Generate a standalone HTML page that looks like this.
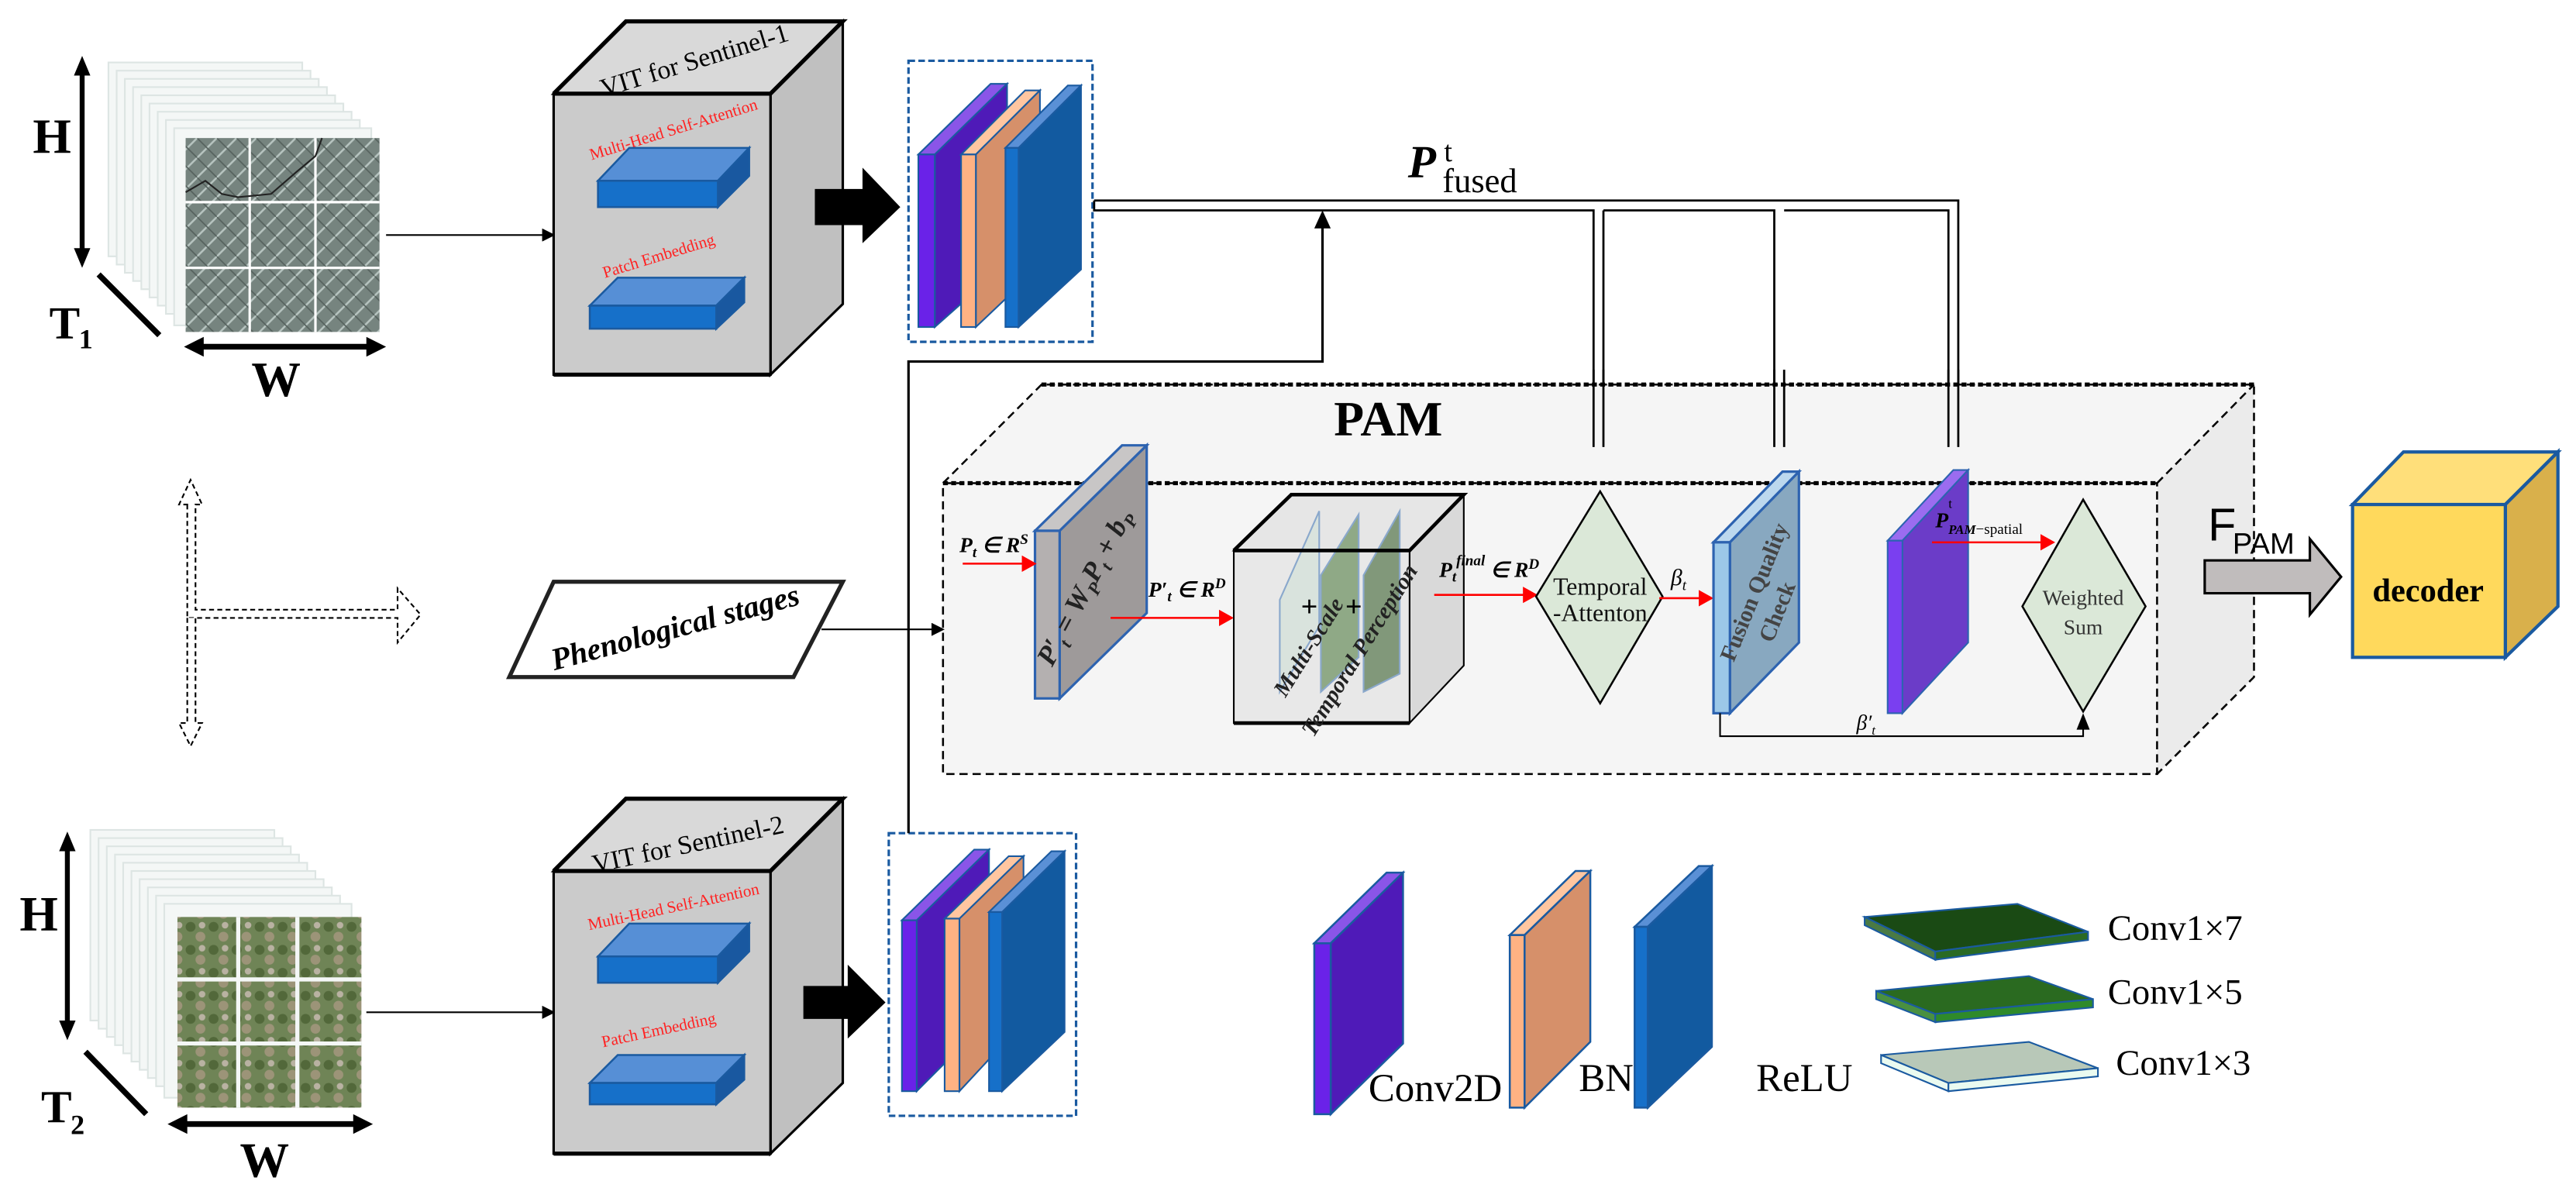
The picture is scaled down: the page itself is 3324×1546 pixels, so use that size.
<!DOCTYPE html>
<html><head><meta charset="utf-8"><style>html,body{margin:0;padding:0;background:#fff}svg{display:block}</style></head>
<body>
<svg width="3324" height="1546" viewBox="0 0 1568 729" preserveAspectRatio="none" xmlns="http://www.w3.org/2000/svg" font-family="Liberation Serif, serif">
<defs>
<marker id="ah" markerWidth="8" markerHeight="8" refX="7" refY="4" orient="auto" markerUnits="userSpaceOnUse"><path d="M0,0 L8,4 L0,8z" fill="#000"/></marker>
<marker id="ar" markerWidth="9" markerHeight="10" refX="8" refY="5" orient="auto" markerUnits="userSpaceOnUse"><path d="M0,0 L9,5 L0,10z" fill="#f00"/></marker>
<pattern id="sat1" width="12" height="12" patternUnits="userSpaceOnUse"><rect width="12" height="12" fill="#76847f"/><path d="M0,12 L12,0 M-3,3 L3,-3 M9,15 L15,9" stroke="#b7c4c0" stroke-width="1.2"/><path d="M0,0 L12,12" stroke="#56625e" stroke-width="0.8"/></pattern>
<pattern id="sat2" width="14" height="14" patternUnits="userSpaceOnUse"><rect width="14" height="14" fill="#6f8456"/><circle cx="4" cy="4" r="3" fill="#52683a"/><circle cx="10" cy="10" r="3" fill="#9c9478"/><circle cx="11" cy="3" r="2" fill="#b9b2a2"/></pattern>
</defs>

<!-- ===== Top-left image stack ===== -->
<g fill="#f4f7f6" stroke="#dde5e3" stroke-width="1">
<rect x="66" y="38" width="118" height="118"/><rect x="71" y="43" width="118" height="118"/><rect x="76" y="48" width="118" height="118"/><rect x="81" y="53" width="118" height="118"/><rect x="86" y="58" width="118" height="118"/><rect x="91" y="63" width="118" height="118"/><rect x="96" y="68" width="118" height="118"/><rect x="101" y="73" width="118" height="118"/><rect x="106" y="78" width="120" height="120"/>
</g>
<rect x="113" y="84" width="118" height="118" fill="url(#sat1)"/>
<path d="M152,84V202M192,84V202M113,123H231M113,163H231" stroke="#fff" stroke-width="1.5"/>
<path d="M113,117 L125,110 L135,118 L145,120 L165,118 L180,105 L192,95 L196,84" stroke="#222" fill="none" stroke-width="1"/>
<line x1="50" y1="40" x2="50" y2="157" stroke="#000" stroke-width="3"/><path d="M45,46 L50,34 L55,46z M45,151 L50,163 L55,151z"/>
<text x="20" y="93" font-size="30" font-weight="bold">H</text>
<line x1="60" y1="167" x2="97" y2="204" stroke="#000" stroke-width="3.5"/>
<text x="30" y="206" font-size="28" font-weight="bold">T</text><text x="48" y="212" font-size="17" font-weight="bold">1</text>
<line x1="118" y1="211" x2="229" y2="211" stroke="#000" stroke-width="3.5"/><path d="M124,205 L112,211 L124,217z M223,205 L235,211 L223,217z"/>
<text x="168" y="241" font-size="30" font-weight="bold" text-anchor="middle">W</text>
<line x1="235" y1="143" x2="337" y2="143" stroke="#000" stroke-width="1" marker-end="url(#ah)"/>

<!-- ===== Bottom-left image stack ===== -->
<g fill="#f4f7f6" stroke="#dde5e3" stroke-width="1">
<rect x="55" y="505" width="112" height="116"/><rect x="60" y="510" width="112" height="116"/><rect x="65" y="515" width="112" height="116"/><rect x="70" y="520" width="112" height="116"/><rect x="75" y="525" width="112" height="116"/><rect x="80" y="530" width="112" height="116"/><rect x="85" y="535" width="112" height="116"/><rect x="90" y="540" width="112" height="116"/><rect x="95" y="545" width="112" height="116"/><rect x="100" y="550" width="114" height="118"/>
</g>
<rect x="108" y="558" width="112" height="116" fill="url(#sat2)"/>
<path d="M145,558V674M181,558V674M108,596H220M108,635H220" stroke="#f4f7f6" stroke-width="2.5"/>
<line x1="41" y1="512" x2="41" y2="627" stroke="#000" stroke-width="3"/><path d="M36,518 L41,506 L46,518z M36,621 L41,633 L46,621z"/>
<text x="12" y="566" font-size="30" font-weight="bold">H</text>
<line x1="52" y1="640" x2="89" y2="678" stroke="#000" stroke-width="3.5"/>
<text x="25" y="683" font-size="28" font-weight="bold">T</text><text x="43" y="690" font-size="17" font-weight="bold">2</text>
<line x1="108" y1="684" x2="221" y2="684" stroke="#000" stroke-width="3.5"/><path d="M114,678 L102,684 L114,690z M215,678 L227,684 L215,690z"/>
<text x="161" y="716" font-size="30" font-weight="bold" text-anchor="middle">W</text>
<line x1="223" y1="616" x2="337" y2="616" stroke="#000" stroke-width="1" marker-end="url(#ah)"/>

<!-- ===== VIT box 1 ===== -->
<g stroke="#000" stroke-width="1.5">
<polygon points="337,57 381,13 513,13 469,57" fill="#d9d9d9"/>
<polygon points="469,57 513,13 513,185 469,228" fill="#c0c0c0"/>
<rect x="337" y="57" width="132" height="171" fill="#cbcbcb"/>
<path d="M337,57 L381,13 H513 L469,57 H337 M337,228 H469" stroke-width="2.5" fill="none"/>
</g>
<text x="423" y="42" font-size="16" text-anchor="middle" transform="rotate(-17 423 38)">VIT for Sentinel-1</text>
<text x="410" y="82" font-size="10" fill="#f22" text-anchor="middle" transform="rotate(-17 410 79)">Multi-Head Self-Attention</text>
<g stroke="#1a5aa0" stroke-width="1.2"><polygon points="364,110 383,90 456,90 437,110" fill="#568fd6"/><polygon points="437,110 456,90 456,107 437,126" fill="#1958a0"/><rect x="364" y="110" width="73" height="16" fill="#1670c9"/></g>
<text x="401" y="159" font-size="10" fill="#f22" text-anchor="middle" transform="rotate(-17 401 156)">Patch Embedding</text>
<g stroke="#1a5aa0" stroke-width="1.2"><polygon points="359,186 376,169 453,169 436,186" fill="#568fd6"/><polygon points="436,186 453,169 453,184 436,200" fill="#1958a0"/><rect x="359" y="186" width="77" height="14" fill="#1670c9"/></g>

<!-- ===== VIT box 2 ===== -->
<g stroke="#000" stroke-width="1.5">
<polygon points="337,530 381,486 513,486 469,530" fill="#d9d9d9"/>
<polygon points="469,530 513,486 513,659 469,702" fill="#c0c0c0"/>
<rect x="337" y="530" width="132" height="172" fill="#cbcbcb"/>
<path d="M337,530 L381,486 H513 L469,530 H337 M337,702 H469" stroke-width="2.5" fill="none"/>
</g>
<text x="419" y="519" font-size="16" text-anchor="middle" transform="rotate(-12 419 515)">VIT for Sentinel-2</text>
<text x="410" y="555" font-size="10" fill="#f22" text-anchor="middle" transform="rotate(-12 410 552)">Multi-Head Self-Attention</text>
<g stroke="#1a5aa0" stroke-width="1.2"><polygon points="364,582 383,562 456,562 437,582" fill="#568fd6"/><polygon points="437,582 456,562 456,579 437,598" fill="#1958a0"/><rect x="364" y="582" width="73" height="16" fill="#1670c9"/></g>
<text x="401" y="630" font-size="10" fill="#f22" text-anchor="middle" transform="rotate(-12 401 627)">Patch Embedding</text>
<g stroke="#1a5aa0" stroke-width="1.2"><polygon points="359,659 376,642 453,642 436,659" fill="#568fd6"/><polygon points="436,659 453,642 453,657 436,672" fill="#1958a0"/><rect x="359" y="659" width="77" height="13" fill="#1670c9"/></g>

<!-- big black arrows -->
<path d="M496,115 H525 V102 L548,126 L525,148 V137 H496z" fill="#000"/>
<path d="M489,600 H516 V587 L539,610 L516,632 V620 H489z" fill="#000"/>

<!-- dashed feature boxes -->
<rect x="553" y="37" width="112" height="171" fill="none" stroke="#1a5aa0" stroke-width="1.5" stroke-dasharray="4,2"/>
<rect x="541" y="507" width="114" height="172" fill="none" stroke="#1a5aa0" stroke-width="1.5" stroke-dasharray="4,2"/>

<!-- slabs top -->
<g stroke="#1a5aa0" stroke-width="1">
<polygon points="559,94 569,94 613,51 603,51" fill="#8a55e8"/><polygon points="569,94 613,51 613,160 569,199" fill="#4f1ab8"/><rect x="559" y="94" width="10" height="105" fill="#6a22e8"/>
<polygon points="585,94 594,94 633,55 624,55" fill="#ffc6a0"/><polygon points="594,94 633,55 633,162 594,199" fill="#d6906a"/><rect x="585" y="94" width="9" height="105" fill="#ffb283"/>
<polygon points="612,90 620,90 658,52 650,52" fill="#5a90d6"/><polygon points="620,90 658,52 658,164 620,199" fill="#125aa0"/><rect x="612" y="90" width="8" height="109" fill="#1670c9"/>
</g>
<!-- slabs bottom -->
<g stroke="#1a5aa0" stroke-width="1">
<polygon points="549,560 558,560 602,517 593,517" fill="#8a55e8"/><polygon points="558,560 602,517 602,620 558,664" fill="#4f1ab8"/><rect x="549" y="560" width="9" height="104" fill="#6a22e8"/>
<polygon points="575,559 584,559 623,521 614,521" fill="#ffc6a0"/><polygon points="584,559 623,521 623,622 584,664" fill="#d6906a"/><rect x="575" y="559" width="9" height="105" fill="#ffb283"/>
<polygon points="602,555 610,555 648,518 640,518" fill="#5a90d6"/><polygon points="610,555 648,518 648,628 610,664" fill="#125aa0"/><rect x="602" y="555" width="8" height="109" fill="#1670c9"/>
</g>

<!-- P fused lines -->
<g stroke="#000" stroke-width="1.3" fill="none">
<path d="M666,122 H1192 V272"/>
<path d="M666,122 V128 H970 V272 M976,128 H1080 V272 M1086,128 H1186 V272"/>
<path d="M976,128 V272 M1080,128 M1086,128"/>
</g>
<g fill="#fff" stroke="#000" stroke-width="1.2">
<path d="M964,270 L982,270 L973,278z"/><path d="M1074,270 L1092,270 L1083,278z"/><path d="M1181,268 L1197,268 L1189,279z"/>
</g>
<text x="857" y="108" font-size="28" font-weight="bold" font-style="italic">P</text>
<text x="878" y="117" font-size="21">fused</text>
<text x="879" y="98" font-size="18">t</text>

<!-- connector from bottom features -->
<path d="M553,507 V220 H805 V136" fill="none" stroke="#000" stroke-width="1.5"/>
<path d="M800,139 L805,128 L810,139z"/>

<!-- ===== PAM box ===== -->
<polygon points="634,234 1372,234 1372,412 1313,471 574,471 574,294" fill="#f5f5f5"/>
<polygon points="1313,294 1372,234 1372,412 1313,471" fill="#ebebeb"/>
<g fill="none" stroke="#000" stroke-width="1.2" stroke-dasharray="5,3">
<path d="M574,294 L634,234 H1372 V412 L1313,471"/>
<rect x="574" y="294" width="739" height="177"/>
<line x1="1313" y1="294" x2="1372" y2="234"/>
</g>
<path d="M634,234 H1372" stroke="#000" stroke-width="2.5" stroke-dasharray="3,2"/>
<path d="M574,294 H1313" stroke="#000" stroke-width="2.5" stroke-dasharray="3,2"/>
<text x="845" y="265" font-size="30" font-weight="bold" text-anchor="middle">PAM</text>
<!-- redraw fused arrows over PAM top line -->
<g stroke="#000" stroke-width="1.3" fill="none"><path d="M970,225 V272 M976,225 V272 M1080,225 V272 M1086,225 V272 M1186,225 V272 M1192,225 V272"/></g>

<!-- Phenological -->
<polygon points="337,354 513,354 483,412 310,412" fill="#fff" stroke="#222" stroke-width="2.5"/>
<text x="411" y="388" font-size="19" font-weight="bold" font-style="italic" text-anchor="middle" transform="rotate(-15 411 382)">Phenological stages</text>
<line x1="500" y1="383" x2="574" y2="383" stroke="#000" stroke-width="1" marker-end="url(#ah)"/>

<!-- dashed cross arrows -->
<g fill="#fff" stroke="#000" stroke-width="1" stroke-dasharray="3,2">
<path d="M114,307 V376 H242 V391 L256,374 L242,358 V371 H119 V307 H123 L116,292 L109,307 Z"/>
<path d="M114,376 V440 H109 L116,454 L123,440 H119 V376"/>
</g>

<!-- PAM first slab -->
<g stroke="#2d63b0" stroke-width="1.5">
<polygon points="630,323 645,323 698,271 683,271" fill="#c8c6c6"/>
<polygon points="645,323 698,271 698,373 645,425" fill="#9e9a9a"/>
<rect x="630" y="323" width="15" height="102" fill="#b4b0b0"/>
</g>
<text x="665" y="360" font-size="17" font-style="italic" font-weight="bold" fill="#222" text-anchor="middle" transform="rotate(-62 665 360)">P′<tspan font-size="11" dy="4">t</tspan><tspan dy="-4"> = W</tspan><tspan font-size="11" dy="4">P</tspan><tspan dy="-4">P</tspan><tspan font-size="11" dy="4">t</tspan><tspan dy="-4"> + b</tspan><tspan font-size="11" dy="4">P</tspan></text>
<text x="584" y="336" font-size="13" font-style="italic" font-weight="bold">P<tspan font-size="9" dy="3">t</tspan><tspan dy="-3"> ∈ R</tspan><tspan font-size="9" dy="-5">S</tspan></text>
<line x1="586" y1="343" x2="630" y2="343" stroke="#f00" stroke-width="1.2" marker-end="url(#ar)"/>
<text x="699" y="363" font-size="13" font-style="italic" font-weight="bold">P′<tspan font-size="9" dy="3">t</tspan><tspan dy="-3"> ∈ R</tspan><tspan font-size="9" dy="-5">D</tspan></text>
<line x1="676" y1="376" x2="750" y2="376" stroke="#f00" stroke-width="1.2" marker-end="url(#ar)"/>

<!-- Multi-scale cube -->
<g stroke="#000" stroke-width="1">
<polygon points="751,335 786,301 891,301 858,335" fill="#e6e6e6"/>
<polygon points="858,335 891,301 891,405 858,440" fill="#d9d9d9"/>
<rect x="751" y="335" width="107" height="105" fill="#e8e8e8"/>
</g>
<g stroke="#8aa8cc" stroke-width="1">
<polygon points="779,365 803,311 803,381 779,421" fill="#d6e2da" fill-opacity="0.85"/>
<polygon points="804,350 827,313 827,400 804,421" fill="#7f9e74" fill-opacity="0.85"/>
<polygon points="830,350 852,311 852,410 830,421" fill="#6e8a66" fill-opacity="0.85"/>
</g>
<path d="M751,335 L786,301 H891 L858,335 H751 M751,440 H858" stroke="#000" stroke-width="2.2" fill="none"/>
<text x="797" y="375" font-size="18" font-weight="bold" text-anchor="middle">+</text><text x="824" y="375" font-size="18" font-weight="bold" text-anchor="middle">+</text>
<text x="797" y="398" font-size="14" font-weight="bold" font-style="italic" fill="#222" text-anchor="middle" transform="rotate(-58 797 394)">Multi-Scale</text>
<text x="828" y="400" font-size="14" font-weight="bold" font-style="italic" fill="#222" text-anchor="middle" transform="rotate(-58 828 396)">Temporal Perception</text>
<text x="876" y="351" font-size="13" font-style="italic" font-weight="bold">P<tspan font-size="9" dy="3">t</tspan><tspan font-size="9" dy="-10">final</tspan><tspan dy="7"> ∈ R</tspan><tspan font-size="9" dy="-5">D</tspan></text>
<line x1="873" y1="362" x2="935" y2="362" stroke="#f00" stroke-width="1.2" marker-end="url(#ar)"/>

<!-- Temporal attention diamond -->
<polygon points="974,299 1012,363 974,428 935,363" fill="#dbe8d8" stroke="#000" stroke-width="1.2"/>
<text x="974" y="362" font-size="15" text-anchor="middle" fill="#111">Temporal</text>
<text x="974" y="378" font-size="15" text-anchor="middle" fill="#111">-Attenton</text>
<text x="1017" y="356" font-size="14" font-style="italic">β<tspan font-size="9" dy="3">t</tspan></text>
<line x1="1010" y1="364" x2="1042" y2="364" stroke="#f00" stroke-width="1.2" marker-end="url(#ar)"/>

<!-- Fusion slab -->
<g stroke="#2d63b0" stroke-width="1.5">
<polygon points="1043,330 1053,330 1095,287 1085,287" fill="#bcd8ee"/>
<polygon points="1053,330 1095,287 1095,391 1053,434" fill="#88a8c0"/>
<rect x="1043" y="330" width="10" height="104" fill="#9cc8e8"/>
</g>
<text x="1072" y="362" font-size="14" font-weight="bold" fill="#444" text-anchor="middle" transform="rotate(-68 1072 362)">Fusion Quality</text>
<text x="1086" y="374" font-size="14" font-weight="bold" fill="#444" text-anchor="middle" transform="rotate(-68 1086 374)">Check</text>

<!-- purple slab -->
<g stroke="#2d63b0" stroke-width="1">
<polygon points="1149,329 1158,329 1198,286 1189,286" fill="#9b6cf0"/>
<polygon points="1158,329 1198,286 1198,391 1158,434" fill="#6b3cc8"/>
<rect x="1149" y="329" width="9" height="105" fill="#7a3ff0"/>
</g>
<text x="1178" y="321" font-size="13" font-style="italic" font-weight="bold">P<tspan font-size="8" dy="4">PAM</tspan><tspan font-size="9" font-style="normal" font-weight="normal">−spatial</tspan></text>
<text x="1186" y="309" font-size="8">t</text>
<line x1="1176" y1="330" x2="1250" y2="330" stroke="#f00" stroke-width="1.2" marker-end="url(#ar)"/>

<!-- Weighted sum diamond -->
<polygon points="1268,304 1306,369 1268,433 1231,369" fill="#dbe8d8" stroke="#000" stroke-width="1.2"/>
<text x="1268" y="368" font-size="13" text-anchor="middle" fill="#333">Weighted</text>
<text x="1268" y="386" font-size="13" text-anchor="middle" fill="#333">Sum</text>
<path d="M1047,434 V448 H1268 V442" fill="none" stroke="#000" stroke-width="1"/>
<path d="M1264,444 L1268,434 L1272,444z"/>
<text x="1130" y="444" font-size="13" font-style="italic">β′<tspan font-size="8" dy="3">t</tspan></text>

<!-- F_PAM arrow -->
<path d="M1342,341 H1406 V328 L1425,351 L1406,374 V361 H1342z" fill="#c0bcbc" stroke="#000" stroke-width="1.5"/>
<text x="1344" y="329" font-size="28" font-family="Liberation Sans, sans-serif">F</text>
<text x="1359" y="337" font-size="18" font-family="Liberation Sans, sans-serif">PAM</text>

<!-- decoder -->
<g stroke="#1a5aa0" stroke-width="2">
<polygon points="1432,307 1463,275 1557,275 1525,307" fill="#ffdf7a"/>
<polygon points="1525,307 1557,275 1557,369 1525,400" fill="#d9b04b"/>
<rect x="1432" y="307" width="93" height="93" fill="#ffd95c"/>
</g>
<text x="1478" y="366" font-size="20" font-weight="bold" text-anchor="middle">decoder</text>

<!-- legend -->
<g stroke="#1a5aa0" stroke-width="1.2">
<polygon points="800,574 810,574 854,531 844,531" fill="#8a55e8"/><polygon points="810,574 854,531 854,635 810,678" fill="#4f1ab8"/><rect x="800" y="574" width="10" height="104" fill="#6a22e8"/>
<polygon points="919,569 928,569 968,530 959,530" fill="#ffc6a0"/><polygon points="928,569 968,530 968,634 928,674" fill="#d6906a"/><rect x="919" y="569" width="9" height="105" fill="#ffb283"/>
<polygon points="995,564 1003,564 1042,527 1034,527" fill="#5a90d6"/><polygon points="1003,564 1042,527 1042,637 1003,674" fill="#125aa0"/><rect x="995" y="564" width="8" height="110" fill="#1670c9"/>
</g>
<text x="833" y="670" font-size="24">Conv2D</text>
<text x="961" y="664" font-size="24">BN</text>
<text x="1069" y="664" font-size="24">ReLU</text>
<g stroke="#1a5aa0" stroke-width="1">
<polygon points="1135,558 1228,550 1271,567 1178,579" fill="#1a4a14"/><polygon points="1135,558 1178,579 1178,584 1135,563" fill="#4a7a44"/><polygon points="1178,579 1271,567 1271,572 1178,584" fill="#2a6a24"/>
<polygon points="1142,603 1235,594 1274,608 1178,617" fill="#2a6a20"/><polygon points="1142,603 1178,617 1178,622 1142,608" fill="#4a9040"/><polygon points="1178,617 1274,608 1274,613 1178,622" fill="#2f8a2a"/>
<polygon points="1145,642 1235,634 1277,650 1186,659" fill="#b8c8b8"/><polygon points="1145,642 1186,659 1186,664 1145,647" fill="#eafaf0"/><polygon points="1186,659 1277,650 1277,655 1186,664" fill="#eafaf0"/>
</g>
<text x="1283" y="572" font-size="22">Conv1×7</text>
<text x="1283" y="611" font-size="22">Conv1×5</text>
<text x="1288" y="654" font-size="22">Conv1×3</text>
</svg>
</body></html>
